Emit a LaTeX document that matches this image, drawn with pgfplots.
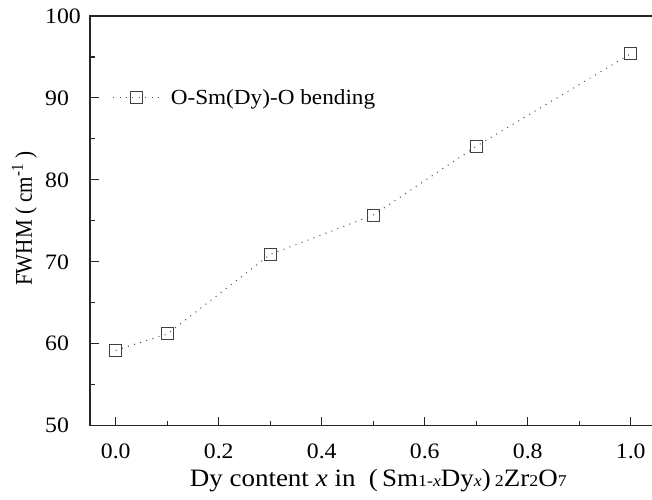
\documentclass[border=0pt]{standalone}
\usepackage{fontspec}
\setmainfont{Liberation Serif}[FakeStretch=1.08]
\newfontfamily\ylabfont{Liberation Serif}[FakeStretch=0.88]
\usepackage{pgfplots}
\pgfplotsset{compat=1.18}

\pgfplotstableread{
x    fwhm
0.0  59.2
0.1  61.2
0.3  70.9
0.5  75.7
0.7  84.1
1.0  95.4
}\fwhmdata

\newcommand{\sub}[1]{{\fontsize{16.5}{17}\selectfont #1}}

\begin{document}
\begin{tikzpicture}
\useasboundingbox (0,0) rectangle (652pt,499pt);
\begin{axis}[
  at={(90pt,73.3pt)}, anchor=south west,
  scale only axis,
  width=566.5pt, height=409.7pt,
  xmin=-0.05, xmax=1.05,
  ymin=50, ymax=100,
  xtick={0,0.2,...,1.0},
  ytick={50,60,...,100},
  minor x tick num=1,
  minor y tick num=1,
  xtick pos=bottom, ytick pos=left,
  tick align=inside,
  major tick length=9pt,
  minor tick length=5pt,
  every tick/.style={black!85, line width=1.1pt},
  axis line style={black!85, line width=1.5pt},
  font=\fontsize{22}{26}\selectfont,
  /pgf/number format/assume math mode=true,
  xticklabel style={anchor=north, inner sep=0pt, yshift=-18pt,
    /pgf/number format/.cd, fixed, fixed zerofill, precision=1},
  yticklabel style={anchor=west, inner sep=0pt, xshift=-45pt,
    /pgf/number format/.cd, fixed},
  xlabel={Dy content \textit{x} in \ (\,Sm\sub{1-\textit{x}}Dy\sub{\textit{x}})\,\sub{2}Zr\sub{2}O\sub{7}},
  xlabel style={at={(axis description cs:0.5,0)}, anchor=base, inner sep=0pt,
    yshift=-60.7pt, xshift=5pt, font=\fontsize{25}{29}\selectfont},
  ylabel={FWHM ( cm\textsuperscript{-1} )},
  ylabel style={at={(axis description cs:-0.1024,0.505)}, anchor=base, inner sep=0pt,
    font=\ylabfont\fontsize{24}{28}\selectfont},
  legend style={at={(axis cs:-0.012,90)}, anchor=west, draw=none, fill=none,
    font=\fontsize{21.5}{25}\selectfont},
  legend image code/.code={
    \draw[mark repeat=2, mark phase=2, #1] plot coordinates {(0pt,0pt) (23.5pt,0pt) (47pt,0pt)};
    \path (55pt,0pt);
  },
]
\addplot[black!70, line width=1pt, dash pattern=on 1pt off 5.4pt,
  mark=square, mark size=6pt,
  mark options={solid, draw=black!75, fill=white, line width=0.9pt}]
  table[x=x, y=fwhm] {\fwhmdata};
\addlegendentry{O-Sm(Dy)-O bending}
\end{axis}
\end{tikzpicture}
\end{document}
